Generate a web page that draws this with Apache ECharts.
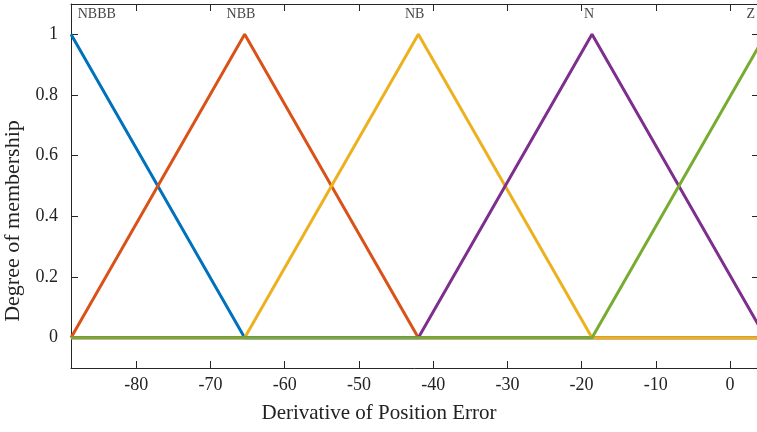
<!DOCTYPE html>
<html><head><meta charset="utf-8">
<script src="https://cdn.jsdelivr.net/npm/echarts@6/dist/echarts.min.js"></script>
<style>html,body{margin:0;padding:0;background:#fff}#c{width:757px;height:432px}</style>
</head><body><div id="c"></div>
<script>
// breakpoints of the triangular membership functions (x values)
var breakpoints = [-88.8, -65.4, -42.0, -18.6, 4.8];
var setNames = ['NBBB', 'NBB', 'NB', 'N', 'Z'];
var NBBB = [1, 0, 0, 0, 0];
var NBB  = [0, 1, 0, 0, 0];
var NB   = [0, 0, 1, 0, 0];
var N    = [0, 0, 0, 1, 0];
var Z    = [0, 0, 0, 0, 1];
var labelX = [-87.9, -65.9, -42.5, -19.0, 2.8];
var labelY = 1.066;
var xTicks = [-80, -70, -60, -50, -40, -30, -20, -10, 0];
var yTicks = [0, 0.2, 0.4, 0.6, 0.8, 1];
var colors = ['#0072BD', '#D95319', '#EDB120', '#7E2F8E', '#77AC30'];

var seriesVals = [NBBB, NBB, NB, N, Z];
var font = '"Liberation Serif", "Times New Roman", serif';
var axisColor = '#262626';

var series = seriesVals.map(function (vals, i) {
  return {
    type: 'line', name: setNames[i], symbol: 'none', clip: true,
    lineStyle: {width: 3, color: colors[i]}, itemStyle: {color: colors[i]},
    data: vals.map(function (v, j) { return [breakpoints[j], v]; }),
    z: 2 + i, animation: false
  };
});
series.push({
  type: 'scatter', symbolSize: 0, clip: false, animation: false, silent: true,
  data: setNames.map(function (n, i) { return {value: [labelX[i], labelY], name: n}; }),
  label: {show: true, position: 'inside', formatter: '{b}', fontFamily: font, fontSize: 14, color: '#111',
    align: 'center'},
  z: 10
});
series[series.length - 1].data[0].label = {align: 'left'};

var chart = echarts.init(document.getElementById('c'), null, {renderer: 'canvas'});
chart.setOption({
  animation: false,
  grid: {left: 71, top: 4, right: -2, bottom: 64, containLabel: false, outerBoundsMode: 'none'},
  xAxis: [{
    type: 'value', min: -88.8, max: 3.9, position: 'bottom',
    interval: 10,
    splitLine: {show: false},
    axisLine: {onZero: false, lineStyle: {color: axisColor, width: 1}},
    axisTick: {inside: true, length: 7, lineStyle: {color: axisColor}, customValues: xTicks},
    axisLabel: {fontFamily: font, fontSize: 18, color: '#222', margin: 8, customValues: xTicks,
      formatter: function (v) { return String(v); }},
    name: 'Derivative of Position Error', nameLocation: 'middle', nameGap: 35,
    nameTextStyle: {fontFamily: font, fontSize: 21, color: '#222', padding: [0, 72, 0, 0]}
  }, {
    type: 'value', min: -88.8, max: 3.9, position: 'top',
    splitLine: {show: false},
    axisLine: {onZero: false, lineStyle: {color: axisColor, width: 1}},
    axisTick: {inside: true, length: 7, lineStyle: {color: axisColor}, customValues: xTicks},
    axisLabel: {show: false}
  }],
  yAxis: [{
    type: 'value', min: -0.1, max: 1.1, position: 'left',
    splitLine: {show: false},
    axisLine: {onZero: false, lineStyle: {color: axisColor, width: 1}},
    axisTick: {inside: true, length: 7, lineStyle: {color: axisColor}, customValues: yTicks},
    axisLabel: {fontFamily: font, fontSize: 18, color: '#222', margin: 13, customValues: yTicks,
      formatter: function (v) { return String(+v.toFixed(1)); }},
    name: 'Degree of membership', nameLocation: 'middle', nameGap: 44,
    nameTextStyle: {fontFamily: font, fontSize: 22, color: '#222', padding: [0, 70, 0, 0]}
  }, {
    type: 'value', min: -0.1, max: 1.1, position: 'right',
    splitLine: {show: false},
    axisLine: {onZero: false, lineStyle: {color: axisColor, width: 1}},
    axisTick: {inside: true, length: 7, lineStyle: {color: axisColor}, customValues: yTicks},
    axisLabel: {show: false}
  }],
  series: series
});
</script></body></html>
